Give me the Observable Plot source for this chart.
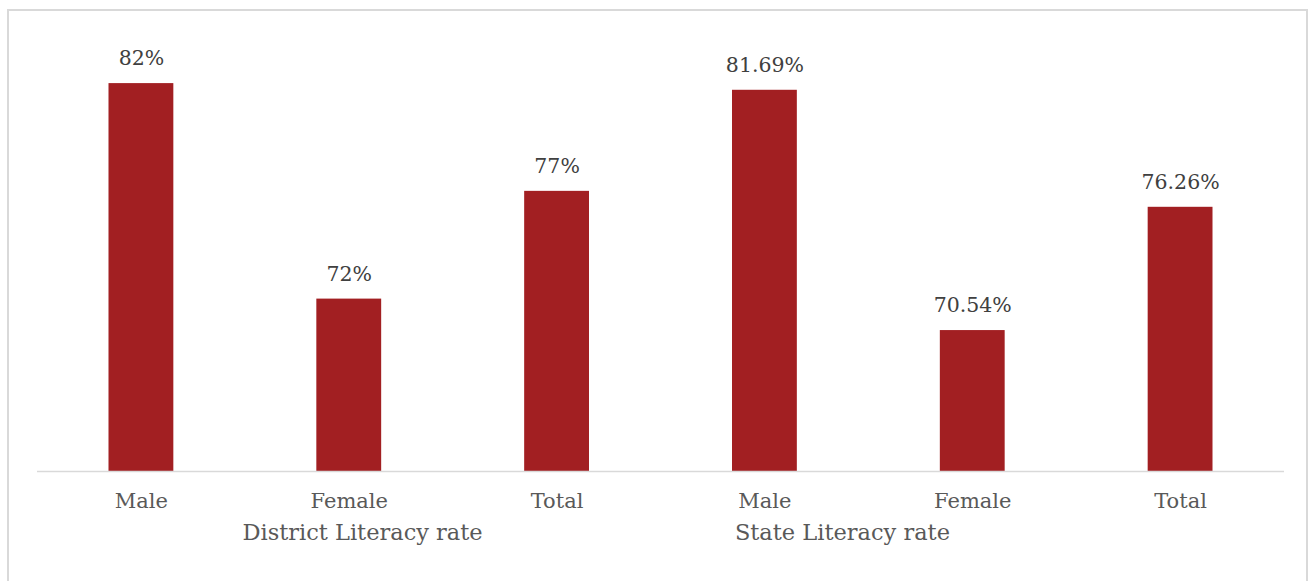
<!DOCTYPE html>
<html>
<head>
<meta charset="utf-8">
<script src="https://cdn.jsdelivr.net/npm/d3@7"></script>
<script src="https://cdn.jsdelivr.net/npm/@observablehq/plot@0.6"></script>
<style>
  html, body { margin: 0; padding: 0; background: #fff; }
  #wrap { position: relative; width: 1313px; height: 581px; overflow: hidden; }
  #border { position: absolute; left: 7px; top: 9px; width: 1301px; height: 620px; border: 2px solid #d9d9d9; box-sizing: border-box; }
  #chart { position: absolute; left: 0; top: 0; }
</style>
</head>
<body>
<div id="wrap">
  <div id="border"></div>
  <div id="chart"></div>
</div>
<script>
const groups = ["District Literacy rate", "State Literacy rate"];
const categories = ["Male", "Female", "Total"];
const districtValues = [82, 72, 77];
const stateValues = [81.69, 70.54, 76.26];

const data = [
  ...categories.map((c, i) => ({key: groups[0] + "|" + c, group: groups[0], cat: c, value: districtValues[i]})),
  ...categories.map((c, i) => ({key: groups[1] + "|" + c, group: groups[1], cat: c, value: stateValues[i]}))
];

const font = "DejaVu Serif";

const chart = Plot.plot({
  width: 1313,
  height: 581,
  marginLeft: 37,
  marginRight: 29,
  marginTop: 40,
  marginBottom: 110,
  style: {fontFamily: font, background: "transparent"},
  x: {type: "band", domain: data.map(d => d.key), padding: 0, round: false},
  y: {domain: [64, 84], axis: null},
  marks: [
    Plot.barY(data, {x: "key", y: "value", fill: "#a21f22", insetLeft: 71.5, insetRight: 71.5, clip: true}),
    Plot.ruleY([64], {stroke: "#d9d9d9", strokeWidth: 1.5}),
    Plot.text(data, {x: "key", y: "value", text: d => d.value + "%", dy: -25, fontSize: 20.5, fill: "#404040"}),
    Plot.axisX({tickSize: 0, tickPadding: 22, tickFormat: k => k.split("|")[1], fontSize: 21, fill: "#595959", label: null}),
    Plot.text([groups[0]], {x: [data[0].key], frameAnchor: "bottom", text: d => d, dy: 68, dx: 101, textAnchor: "start", fontSize: 22.5, fill: "#595959"}),
    Plot.text([groups[1]], {x: [data[3].key], frameAnchor: "bottom", text: d => d, dy: 68, dx: -30, textAnchor: "start", fontSize: 22.5, fill: "#595959"})
  ]
});
document.getElementById("chart").appendChild(chart);
</script>
</body>
</html>
